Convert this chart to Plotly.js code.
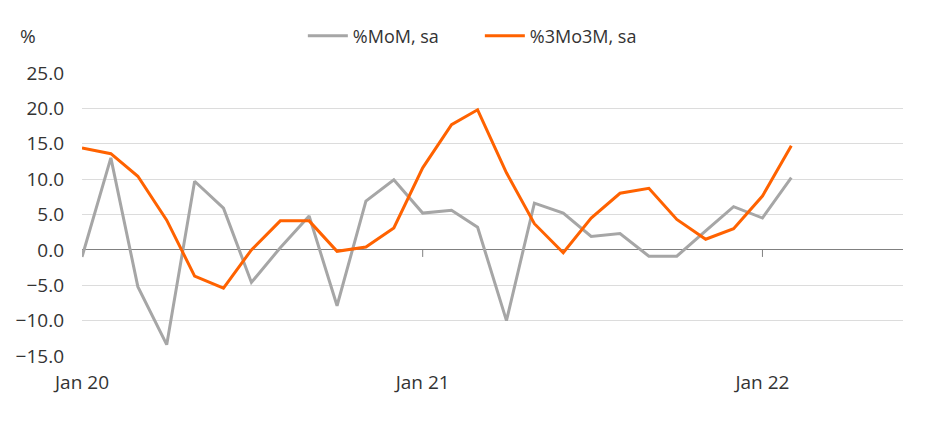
<!DOCTYPE html>
<html>
<head>
<meta charset="utf-8">
<script src="https://cdn.plot.ly/plotly-3.0.1.min.js"></script>
<style>html,body{margin:0;padding:0;background:#fff;}#chart{width:952px;height:438px;}</style>
</head>
<body>
<div id="chart"></div>
<script>
const months = ['2020-01-01','2020-02-01','2020-03-01','2020-04-01','2020-05-01','2020-06-01','2020-07-01','2020-08-01','2020-09-01','2020-10-01','2020-11-01','2020-12-01',
'2021-01-01','2021-02-01','2021-03-01','2021-04-01','2021-05-01','2021-06-01','2021-07-01','2021-08-01','2021-09-01','2021-10-01','2021-11-01','2021-12-01',
'2022-01-01','2022-02-01'];
const momSa = [-1.0,13.0,-5.2,-13.4,9.7,5.9,-4.6,0.3,4.8,-7.9,6.9,9.9,5.2,5.6,3.2,-10.0,6.6,5.2,1.9,2.3,-0.9,-0.9,2.7,6.1,4.5,10.2];
const threeMo3M = [14.4,13.6,10.4,4.2,-3.7,-5.4,0.0,4.1,4.1,-0.2,0.4,3.1,11.6,17.7,19.8,10.9,3.7,-0.4,4.5,8.0,8.7,4.3,1.5,3.0,7.6,14.7];
const seriesNames = ['%MoM, sa','%3Mo3M, sa'];
const tickVals = ['2020-01-01','2021-01-01','2022-01-01'];
const tickText = ['Jan 20','Jan 21','Jan 22'];
const yUnit = '%';

const font = {family:'"Open Sans", sans-serif', size:18, color:'#333333'};
const tickFont = {family:'"Open Sans", sans-serif', size:19, color:'#333333'};

const traces = [
  {x:months, y:momSa, name:seriesNames[0], type:'scatter', mode:'lines', line:{color:'#A6A6A6', width:3}},
  {x:months, y:threeMo3M, name:seriesNames[1], type:'scatter', mode:'lines', line:{color:'#FF6200', width:3}}
];

const tickShapes = tickVals.map(v => ({type:'line', xref:'x', yref:'y', x0:v, x1:v, y0:0, y1:-1, line:{color:'#808080', width:1}, layer:'below'}));

const layout = {
  width:952, height:438,
  margin:{l:82, r:49, t:73, b:82},
  paper_bgcolor:'#ffffff', plot_bgcolor:'#ffffff',
  font:font,
  showlegend:true,
  legend:{orientation:'h', x:0.269, xanchor:'left', y:1.131, yanchor:'middle', font:font, bgcolor:'rgba(0,0,0,0)', itemwidth:40, entrywidth:122, entrywidthmode:'pixels'},
  xaxis:{type:'date', range:['2020-01-01','2022-06-01'], tickvals:tickVals, ticktext:tickText, showgrid:false, zeroline:false, showline:false, ticks:'', ticklabelstandoff:13, tickfont:tickFont, fixedrange:true},
  yaxis:{range:[-15,25], dtick:5, tick0:0, tickformat:'.1f', showgrid:true, gridcolor:'#DCDCDC', gridwidth:1, zeroline:true, zerolinecolor:'#808080', zerolinewidth:1, showline:false, ticks:'', ticklabelstandoff:17, tickfont:tickFont, fixedrange:true},
  shapes:tickShapes,
  annotations:[{text:yUnit, xref:'paper', yref:'paper', x:-0.078, y:1.131, xanchor:'left', yanchor:'middle', showarrow:false, font:tickFont}]
};

Plotly.newPlot('chart', traces, layout, {displayModeBar:false, staticPlot:true});
</script>
</body>
</html>
